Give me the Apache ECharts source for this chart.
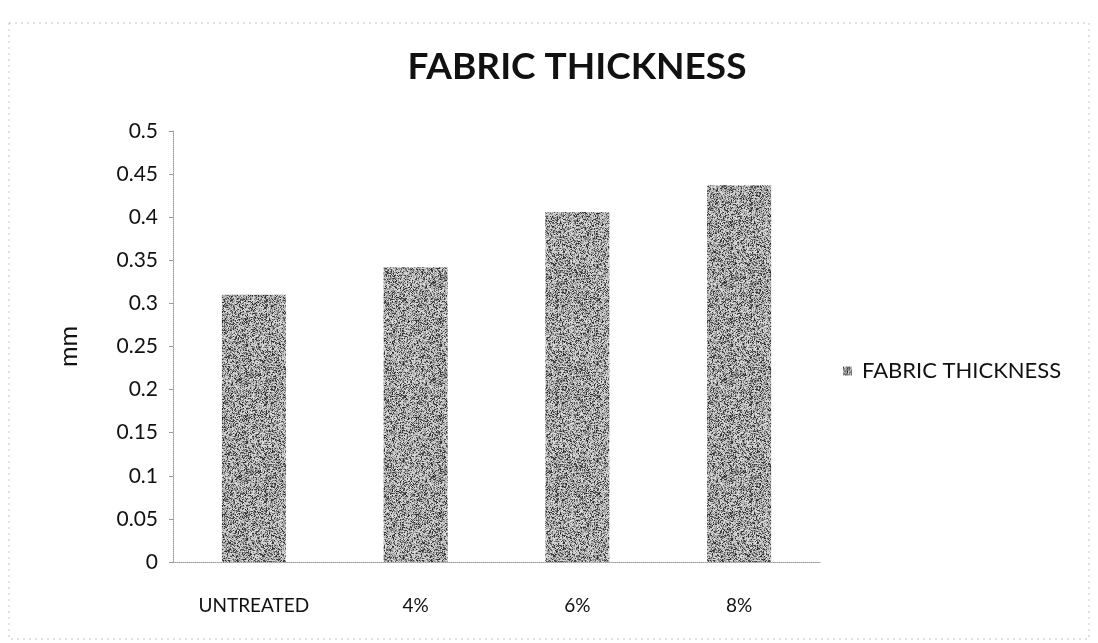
<!DOCTYPE html>
<html>
<head>
<meta charset="utf-8">
<title>Fabric Thickness</title>
<script src="https://cdn.jsdelivr.net/npm/echarts@6/dist/echarts.min.js"></script>
<style>
  html, body { margin: 0; padding: 0; background: #ffffff; }
  #chart { width: 1098px; height: 643px; }
</style>
</head>
<body>
<div id="chart"></div>
<script>
// Treatments and measured thickness (mm)
const categories = ['UNTREATED', '4%', '6%', '8%'];
const thickness = [0.31, 0.342, 0.406, 0.437];
const seriesName = 'FABRIC THICKNESS';
const yTicks = [0, 0.05, 0.1, 0.15, 0.2, 0.25, 0.3, 0.35, 0.4, 0.45, 0.5];

// Mottled grey fill for the bars, built from a deterministic hash
function speckleTexture(size) {
  const c = document.createElement('canvas');
  c.width = size; c.height = size;
  const ctx = c.getContext('2d');
  const img = ctx.createImageData(size, size);
  for (let y = 0; y < size; y++) {
    for (let x = 0; x < size; x++) {
      let h = (x * 374761393 + y * 668265263) >>> 0;
      h = ((h ^ (h >>> 13)) * 1274126177) >>> 0;
      h = (h ^ (h >>> 16)) >>> 0;
      const r = (h & 255) / 255;
      const j = (h >>> 8) & 63;
      let v;
      if (r < 0.25) v = 35 + j;
      else if (r < 0.66) v = 125 + j;
      else v = 195 + (j >> 1);
      const i = (y * size + x) * 4;
      img.data[i] = v; img.data[i + 1] = v; img.data[i + 2] = v; img.data[i + 3] = 255;
    }
  }
  ctx.putImageData(img, 0, 0);
  return c;
}
const texture = speckleTexture(97);

const chart = echarts.init(document.getElementById('chart'), null, { renderer: 'canvas' });
const font = 'Lato, "Open Sans", sans-serif';

chart.setOption({
  backgroundColor: '#ffffff',
  animation: false,
  textStyle: { fontFamily: font },
  title: {
    text: 'FABRIC THICKNESS',
    left: 572, top: 44, textAlign: 'center',
    textStyle: { fontFamily: font, fontWeight: 'bold', fontSize: 37, color: '#111111' }
  },
  legend: {
    data: [seriesName],
    orient: 'vertical',
    left: 838, top: 355,
    itemWidth: 9, itemHeight: 9, itemGap: 8,
    icon: 'rect',
    textStyle: { fontFamily: font, fontSize: 22, color: '#111111', padding: [0, 0, 0, 5] }
  },
  grid: { left: 173, right: 278, top: 131, bottom: 81, containLabel: false },
  xAxis: {
    type: 'category',
    data: categories,
    axisLine: { lineStyle: { color: '#9a9a9a', type: 'dotted', width: 1 } },
    axisTick: { show: false },
    axisLabel: { fontFamily: font, fontSize: 19, color: '#111111', margin: 34 }
  },
  yAxis: {
    type: 'value',
    min: yTicks[0], max: yTicks[yTicks.length - 1], interval: 0.05,
    name: 'mm',
    nameLocation: 'middle',
    nameGap: 92,
    nameRotate: 90,
    nameTextStyle: { fontFamily: font, fontSize: 25, color: '#111111' },
    axisLine: { show: true, lineStyle: { color: '#9a9a9a', type: 'dotted', width: 1 } },
    axisTick: { show: true, length: 4, lineStyle: { color: '#9a9a9a' } },
    splitLine: { show: false },
    axisLabel: {
      fontFamily: font, fontSize: 21, color: '#111111', margin: 15,
      formatter: v => String(parseFloat(v.toFixed(2)))
    }
  },
  series: [{
    name: seriesName,
    type: 'bar',
    data: thickness,
    barWidth: 64,
    itemStyle: { color: { image: texture, repeat: 'repeat' } }
  }],
  graphic: [{
    type: 'rect',
    shape: { x: 9, y: 23, width: 1080, height: 616 },
    style: { fill: 'none', stroke: '#c4c4c4', lineWidth: 1, lineDash: [2, 4] },
    silent: true
  }]
});
</script>
</body>
</html>
